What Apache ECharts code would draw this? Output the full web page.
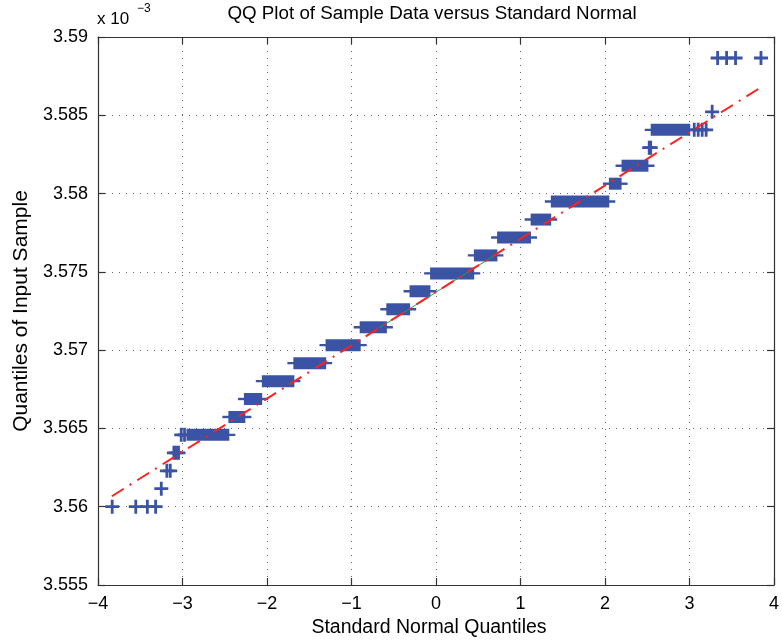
<!DOCTYPE html>
<html>
<head>
<meta charset="utf-8">
<script src="https://cdn.jsdelivr.net/npm/echarts@6/dist/echarts.min.js"></script>
<style>
  html, body { margin: 0; padding: 0; background: #fff; }
  #chart { width: 782px; height: 643px; }
</style>
</head>
<body>
<div id="chart"></div>
<script>
// Sample quantiles are in units of 1e-3 (see the exponent label above the y axis).

// Isolated sample points (theoretical quantile, sample quantile)
const pointX = [-3.832, -3.553, -3.416, -3.318, -3.251, -3.185, -3.145, -3.102, -3.074, -3.047,
                -3.015, -2.976, 2.523, 2.541, 3.056, 3.103, 3.150, 3.197, 3.268,
                3.333, 3.439, 3.545, 3.846];
const pointY = [3.56000, 3.56000, 3.56000, 3.56000, 3.56115, 3.56229, 3.56229, 3.56344, 3.56344, 3.56344,
                3.56459, 3.56459, 3.58293, 3.58293, 3.58407, 3.58407, 3.58407, 3.58407, 3.58522,
                3.58866, 3.58866, 3.58866, 3.58866];

// Runs of tied sample values: many points on one level, from runStart to runEnd
const runLevel = [3.56459, 3.56573, 3.56688, 3.56802, 3.56917, 3.57032, 3.57146, 3.57261, 3.57376,
                  3.57490, 3.57605, 3.57719, 3.57834, 3.57949, 3.58063, 3.58178, 3.58407];
const runStart = [-2.953, -2.457, -2.273, -2.061, -1.688, -1.307, -0.903, -0.588, -0.313,
                  -0.070, 0.448, 0.723, 1.120, 1.359, 2.046, 2.196, 2.541];
const runEnd   = [-2.446, -2.256, -2.057, -1.676, -1.300, -0.891, -0.581, -0.306, -0.066,
                  0.452, 0.727, 1.124, 1.363, 2.051, 2.196, 2.514, 3.009];

// Reference line: solid between the quartiles, dash-dot extension over the full range
const quartileLineX = [-0.674, 0.674];
const quartileLineY = [3.57141, 3.57599];
const fullLineX = [-3.836, 3.835];
const fullLineY = [3.56067, 3.58675];

// Tick values
const xTicks = [-4, -3, -2, -1, 0, 1, 2, 3, 4];
const yTicks = [3.555, 3.56, 3.565, 3.57, 3.575, 3.58, 3.585, 3.59];

const BLUE = '#3a53a4';
const RED = '#ff2020';
const FONT = 'Liberation Sans';
const MARK = 14;

// '+' marker on a 14x14 box, arms about 2.8 px thick
const plusPath = 'path://M5.6,0H8.4V5.6H14V8.4H8.4V14H5.6V8.4H0V5.6H5.6Z';

const chart = echarts.init(document.getElementById('chart'), null, { renderer: 'canvas' });

const gridLine = { show: true, lineStyle: { color: '#666', width: 1, type: [1, 6] } };
const axisLineStyle = { show: true, onZero: false, lineStyle: { color: '#333', width: 1.2 } };
const tickStyle = { show: true, inside: true, length: 7, lineStyle: { color: '#333', width: 1.2 } };

const minus = v => (v < 0 ? '\u2212' + Math.abs(v) : String(v));

chart.setOption({
  animation: false,
  backgroundColor: '#fff',
  grid: { left: 98, right: 5, top: 37, bottom: 57, containLabel: false },
  xAxis: [
    {
      type: 'value', position: 'bottom',
      min: xTicks[0], max: xTicks[xTicks.length - 1], interval: 1,
      axisLine: axisLineStyle, axisTick: tickStyle, splitLine: gridLine,
      axisLabel: { color: '#000', fontFamily: FONT, fontSize: 18, margin: 10, formatter: minus },
      name: 'Standard Normal Quantiles', nameLocation: 'middle', nameGap: 33,
      nameTextStyle: { color: '#000', fontFamily: FONT, fontSize: 19.5, padding: [0, 14, 0, 0] }
    },
    {
      type: 'value', position: 'top',
      min: xTicks[0], max: xTicks[xTicks.length - 1], interval: 1,
      axisLine: axisLineStyle, axisTick: tickStyle, splitLine: { show: false },
      axisLabel: { show: false }
    }
  ],
  yAxis: [
    {
      type: 'value', position: 'left',
      min: yTicks[0], max: yTicks[yTicks.length - 1], interval: 0.005,
      axisLine: axisLineStyle, axisTick: tickStyle, splitLine: gridLine,
      axisLabel: { color: '#000', fontFamily: FONT, fontSize: 18, margin: 10,
                   formatter: v => String(+v.toFixed(3)) },
      name: 'Quantiles of Input Sample', nameLocation: 'middle', nameGap: 66,
      nameTextStyle: { color: '#000', fontFamily: FONT, fontSize: 21 }
    },
    {
      type: 'value', position: 'right',
      min: yTicks[0], max: yTicks[yTicks.length - 1], interval: 0.005,
      axisLine: axisLineStyle, axisTick: tickStyle, splitLine: { show: false },
      axisLabel: { show: false }
    }
  ],
  graphic: [
    { type: 'text', x: 432, y: 4,
      style: { text: 'QQ Plot of Sample Data versus Standard Normal', fill: '#000',
               font: '18.8px "' + FONT + '"', align: 'center' } },
    { type: 'text', x: 97, y: 11,
      style: { text: 'x 10', fill: '#000', font: '17px "' + FONT + '"' } },
    { type: 'text', x: 137, y: 3,
      style: { text: '\u22123', fill: '#000', font: '12px "' + FONT + '"' } }
  ],
  series: [
    {
      type: 'custom',
      xAxisIndex: 0, yAxisIndex: 0,
      data: runLevel.map((y, i) => [runStart[i], runEnd[i], y]),
      renderItem: function (params, api) {
        const a = api.coord([api.value(0), api.value(2)]);
        const b = api.coord([api.value(1), api.value(2)]);
        const h = MARK / 2;
        return {
          type: 'group',
          children: [
            { type: 'rect', shape: { x: a[0], y: a[1] - h + 1, width: b[0] - a[0], height: MARK - 2 },
              style: { fill: BLUE } },
            { type: 'line', shape: { x1: a[0] - h + 1, y1: a[1], x2: b[0] + h - 1, y2: a[1] },
              style: { stroke: BLUE, lineWidth: 2.4 } }
          ]
        };
      },
      z: 2
    },
    {
      type: 'scatter',
      xAxisIndex: 0, yAxisIndex: 0,
      data: pointX.map((x, i) => [x, pointY[i]]),
      symbol: plusPath, symbolSize: MARK,
      itemStyle: { color: BLUE, opacity: 1 },
      z: 2
    },
    {
      type: 'line',
      xAxisIndex: 0, yAxisIndex: 0,
      data: quartileLineX.map((x, i) => [x, quartileLineY[i]]),
      symbol: 'none',
      lineStyle: { color: '#2e9a4e', width: 1 },
      z: 3
    },
    {
      type: 'line',
      xAxisIndex: 0, yAxisIndex: 0,
      data: fullLineX.map((x, i) => [x, fullLineY[i]]),
      symbol: 'none',
      lineStyle: { color: RED, width: 2, type: [14, 7, 2, 7] },
      z: 4
    }
  ]
});
</script>
</body>
</html>
